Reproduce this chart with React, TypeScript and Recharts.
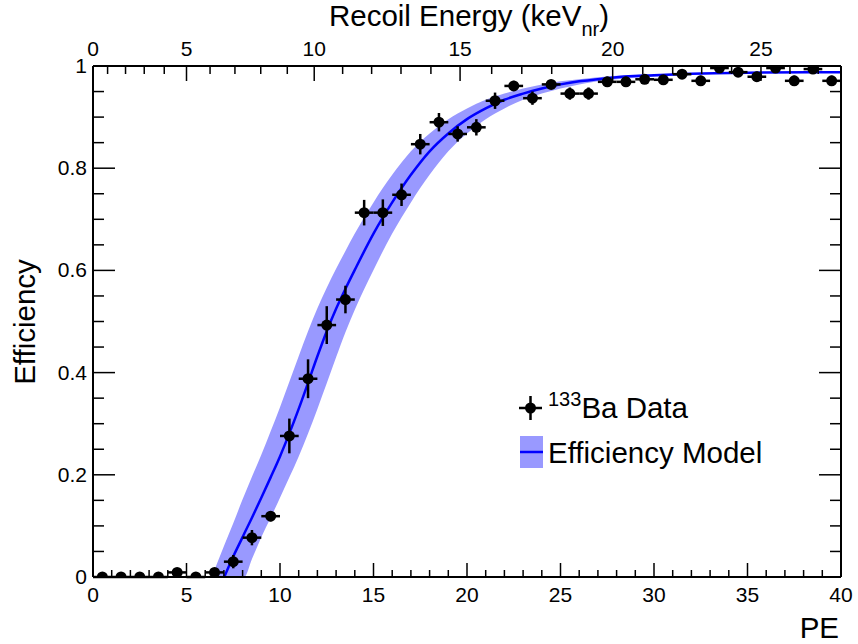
import {
  Area,
  ComposedChart,
  ErrorBar,
  Line,
  Scatter,
  XAxis,
  YAxis,
} from "recharts";

// 133Ba data, 1 PE bins
const peBins = [
  0.5, 1.5, 2.5, 3.5, 4.5, 5.5, 6.5, 7.5, 8.5, 9.5, 10.5, 11.5, 12.5, 13.5,
  14.5, 15.5, 16.5, 17.5, 18.5, 19.5, 20.5, 21.5, 22.5, 23.5, 24.5, 25.5, 26.5,
  27.5, 28.5, 29.5, 30.5, 31.5, 32.5, 33.5, 34.5, 35.5, 36.5, 37.5, 38.5, 39.5,
];
const effValues = [
  0, 0, 0, 0, 0.009, 0, 0.009, 0.03, 0.077, 0.119, 0.276, 0.388, 0.493, 0.543,
  0.713, 0.713, 0.748, 0.847, 0.89, 0.867, 0.88, 0.932, 0.961, 0.937, 0.964,
  0.946, 0.946, 0.969, 0.969, 0.974, 0.973, 0.984, 0.971, 0.996, 0.988, 0.979,
  0.996, 0.971, 0.994, 0.971,
];
const effErrors = [
  0, 0, 0, 0, 0.005, 0, 0.006, 0.013, 0.015, 0.01, 0.034, 0.038, 0.037, 0.027,
  0.025, 0.026, 0.022, 0.02, 0.018, 0.015, 0.016, 0.016, 0.01, 0.013, 0.008,
  0.012, 0.012, 0.01, 0.01, 0.008, 0.008, 0.006, 0.01, 0.005, 0.006, 0.01,
  0.004, 0.01, 0.004, 0.01,
];
const binHalfWidth = 0.5;

// efficiency model curve and its band
const modelPE = [
  6.35, 7.02, 7.5, 8, 8.09, 8.5, 9, 9.5, 10, 10.5, 11, 11.5, 12, 12.5, 13, 13.5,
  14, 15, 16, 17, 18, 19, 20, 21, 22, 23, 24, 25, 26, 27, 28, 30, 32, 35, 40,
];
const modelCenter = [
  null, 0, 0.04, 0.078, 0.085, 0.116, 0.155, 0.195, 0.236, 0.281, 0.329, 0.38,
  0.432, 0.481, 0.525, 0.564, 0.601, 0.672, 0.733, 0.787, 0.833, 0.868, 0.896,
  0.917, 0.934, 0.946, 0.956, 0.964, 0.97, 0.974, 0.978, 0.982, 0.985, 0.987,
  0.988,
];
const bandUpper = [
  0, 0.062, 0.105, 0.152, 0.16, 0.196, 0.239, 0.285, 0.332, 0.382, 0.432, 0.481,
  0.526, 0.566, 0.603, 0.638, 0.672, 0.733, 0.787, 0.833, 0.868, 0.896, 0.917,
  0.934, 0.946, 0.956, 0.964, 0.97, 0.974, 0.978, 0.981, 0.984, 0.986, 0.988,
  0.989,
];
const bandLower = [
  0, 0, 0, 0, 0, 0.035, 0.078, 0.116, 0.155, 0.195, 0.236, 0.281, 0.329, 0.379,
  0.43, 0.479, 0.523, 0.601, 0.672, 0.733, 0.787, 0.833, 0.868, 0.896, 0.917,
  0.934, 0.946, 0.956, 0.964, 0.97, 0.974, 0.979, 0.983, 0.986, 0.987,
];

// axis ticks
const peTicks = [
  0, 1, 2, 3, 4, 5, 6, 7, 8, 9, 10, 11, 12, 13, 14, 15, 16, 17, 18, 19, 20, 21,
  22, 23, 24, 25, 26, 27, 28, 29, 30, 31, 32, 33, 34, 35, 36, 37, 38, 39, 40,
];
const effTicks = [
  0, 0.05, 0.1, 0.15, 0.2, 0.25, 0.3, 0.35, 0.4, 0.45, 0.5, 0.55, 0.6, 0.65,
  0.7, 0.75, 0.8, 0.85, 0.9, 0.95, 1,
];
const keVLabels = [
  0, 1, 2, 3, 4, 5, 6, 7, 8, 9, 10, 11, 12, 13, 14, 15, 16, 17, 18, 19, 20, 21,
  22, 23, 24, 25, 26, 27,
];
const keVTickPE = [
  0, 0.78, 1.74, 2.74, 3.81, 5.0, 6.26, 7.59, 8.97, 10.39, 11.83, 13.35, 14.9,
  16.47, 18.07, 19.63, 21.32, 22.93, 24.53, 26.19, 27.79, 29.4, 31.0, 32.55,
  34.15, 35.72, 37.27, 38.78,
];

const points = peBins.map((pe, i) => ({
  pe,
  eff: effValues[i],
  ey: effErrors[i],
  ex: binHalfWidth,
}));

const model = modelPE.map((pe, i) => ({
  pe,
  center: modelCenter[i],
  band: [bandLower[i], bandUpper[i]],
}));

const FONT = "'Liberation Sans', Arial, Helvetica, sans-serif";
const LABEL_SIZE = 21;
const TITLE_SIZE = 29.5;

const BottomTick = (props: any) => {
  const { x, y, payload } = props;
  const v = payload.value;
  const major = v % 5 === 0;
  return (
    <g>
      <line x1={x} x2={x} y1={y} y2={y - (major ? 14 : 7)} stroke="#000" strokeWidth={1.5} />
      {major && (
        <text x={x} y={y + 25} textAnchor="middle" fontSize={LABEL_SIZE} fontFamily={FONT} fill="#000">
          {v}
        </text>
      )}
    </g>
  );
};

const TopTick = (props: any) => {
  const { x, y, payload } = props;
  const idx = keVTickPE.indexOf(payload.value);
  const kev = keVLabels[idx];
  const major = kev % 5 === 0;
  return (
    <g>
      <line x1={x} x2={x} y1={y} y2={y + (major ? 15 : 8)} stroke="#000" strokeWidth={1.5} />
      {major && (
        <text x={x} y={y - 10} textAnchor="middle" fontSize={LABEL_SIZE} fontFamily={FONT} fill="#000">
          {kev}
        </text>
      )}
    </g>
  );
};

const isMajorEff = (v: number) => Math.round(v * 100) % 20 === 0;

const LeftTick = (props: any) => {
  const { x, y, payload } = props;
  const v = payload.value;
  const major = isMajorEff(v);
  const txt = v === 0 ? "0" : v === 1 ? "1" : v.toFixed(1);
  return (
    <g>
      <line x1={x} x2={x + (major ? 22 : 11)} y1={y} y2={y} stroke="#000" strokeWidth={1.5} />
      {major && (
        <text x={x - 6} y={y + 7} textAnchor="end" fontSize={LABEL_SIZE} fontFamily={FONT} fill="#000">
          {txt}
        </text>
      )}
    </g>
  );
};

const RightTick = (props: any) => {
  const { x, y, payload } = props;
  const major = isMajorEff(payload.value);
  return (
    <line x1={x} x2={x - (major ? 22 : 11)} y1={y} y2={y} stroke="#000" strokeWidth={1.5} />
  );
};

const Dot = (props: any) => <circle cx={props.cx} cy={props.cy} r={5.5} fill="#000" />;

export default function App() {
  return (
    <div style={{ position: "absolute", left: 0, top: 0, background: "#fff" }}>
      <ComposedChart
        width={858}
        height={644}
        data={model}
        margin={{ top: 46, right: 7, bottom: 47, left: 73 }}
      >
        <XAxis
          dataKey="pe"
          type="number"
          domain={[0, 40]}
          ticks={peTicks}
          interval={0}
          height={20}
          tickSize={0}
          tickMargin={0}
          tick={<BottomTick />}
          axisLine={{ stroke: "#000", strokeWidth: 2 }}
          allowDataOverflow
        />
        <XAxis
          xAxisId="top"
          orientation="top"
          dataKey="pe"
          type="number"
          domain={[0, 40]}
          ticks={keVTickPE}
          interval={0}
          height={20}
          tickSize={0}
          tickMargin={0}
          tick={<TopTick />}
          axisLine={{ stroke: "#000", strokeWidth: 2 }}
          allowDataOverflow
        />
        <YAxis
          type="number"
          domain={[0, 1]}
          ticks={effTicks}
          interval={0}
          width={20}
          tickSize={0}
          tickMargin={0}
          tick={<LeftTick />}
          axisLine={{ stroke: "#000", strokeWidth: 2 }}
          allowDataOverflow
        />
        <YAxis
          yAxisId="right"
          orientation="right"
          type="number"
          domain={[0, 1]}
          ticks={effTicks}
          interval={0}
          width={10}
          tickSize={0}
          tickMargin={0}
          tick={<RightTick />}
          axisLine={{ stroke: "#000", strokeWidth: 2 }}
          allowDataOverflow
        />
        <Area
          dataKey="band"
          type="monotone"
          stroke="none"
          fill="#9999ff"
          fillOpacity={1}
          isAnimationActive={false}
          activeDot={false}
        />
        <Line
          dataKey="center"
          type="monotone"
          stroke="#0000ff"
          strokeWidth={2.5}
          dot={false}
          activeDot={false}
          isAnimationActive={false}
        />
        <Scatter data={points} dataKey="eff" shape={<Dot />} isAnimationActive={false}>
          <ErrorBar dataKey="ey" direction="y" width={0} stroke="#000" strokeWidth={2.5} />
          <ErrorBar dataKey="ex" direction="x" width={0} stroke="#000" strokeWidth={2.5} />
        </Scatter>

        {/* axis titles */}
        <text x={469} y={26} textAnchor="middle" fontSize={TITLE_SIZE} fontFamily={FONT} fill="#000">
          Recoil Energy (keV
          <tspan fontSize={20} dy={10}>nr</tspan>
          <tspan dy={-10}>)</tspan>
        </text>
        <text x={839} y={638} textAnchor="end" fontSize={TITLE_SIZE} fontFamily={FONT} fill="#000">
          PE
        </text>
        <text
          x={0}
          y={0}
          transform="translate(35,322) rotate(-90)"
          textAnchor="middle"
          fontSize={TITLE_SIZE}
          fontFamily={FONT}
          fill="#000"
        >
          Efficiency
        </text>

        {/* legend */}
        <g>
          <line x1={519} x2={542} y1={408} y2={408} stroke="#000" strokeWidth={2.5} />
          <line x1={530.5} x2={530.5} y1={396} y2={420} stroke="#000" strokeWidth={2.5} />
          <circle cx={530.5} cy={408} r={5.5} fill="#000" />
          <text x={548} y={418} fontSize={TITLE_SIZE} fontFamily={FONT} fill="#000">
            <tspan fontSize={20} dy={-12}>133</tspan>
            <tspan dy={12}>Ba Data</tspan>
          </text>
          <rect x={520} y={436} width={23} height={32} fill="#9999ff" />
          <line x1={520} x2={543} y1={452} y2={452} stroke="#0000ff" strokeWidth={2.5} />
          <text x={548} y={463} fontSize={TITLE_SIZE} fontFamily={FONT} fill="#000">
            Efficiency Model
          </text>
        </g>
      </ComposedChart>
    </div>
  );
}
